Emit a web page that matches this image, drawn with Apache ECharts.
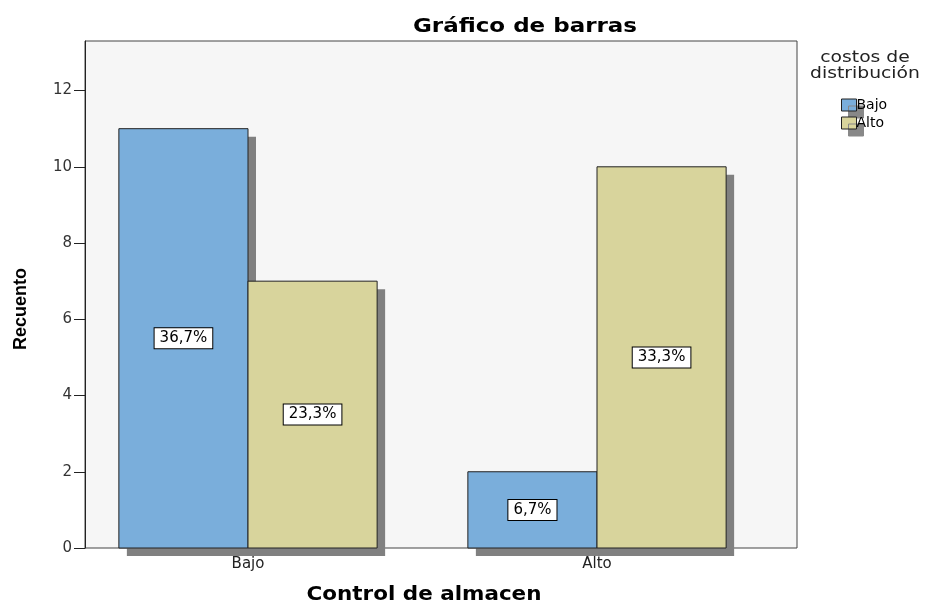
<!DOCTYPE html>
<html>
<head>
<meta charset="utf-8">
<script src="https://cdn.jsdelivr.net/npm/echarts@6/dist/echarts.min.js"></script>
<style>
  html, body { margin: 0; padding: 0; background: #fff; }
  #chart { width: 925px; height: 604px; }
</style>
</head>
<body>
<div id="chart"></div>
<script>
// data
var categories = ["Bajo", "Alto"];
var bajoCounts = [11, 2];
var altoCounts = [7, 10];
var bajoPct = ["36,7%", "6,7%"];
var altoPct = ["23,3%", "33,3%"];
var yTicks = [0, 2, 4, 6, 8, 10, 12];

var font = "DejaVu Sans, Arial, sans-serif";
var chart = echarts.init(document.getElementById("chart"));

// bar + drop shadow, drawn through the axis scales
function barRenderer(color, pct, side) {
    return function (params, api) {
        var ci = api.value(0);
        var base = api.coord([ci, 0]);
        var top = api.coord([ci, api.value(1)]);
        var bw = api.size([1, 0])[0] * 0.37;
        var x0 = base[0] + (side === 0 ? -bw : 0);
        var h = base[1] - top[1];
        return {
            type: "group",
            children: [
                {
                    type: "rect",
                    shape: { x: x0 + 8, y: top[1] + 8, width: bw, height: h },
                    style: { fill: "#808080" }
                },
                {
                    type: "rect",
                    shape: { x: x0, y: top[1], width: bw, height: h },
                    style: { fill: color, stroke: "#222", lineWidth: 1 },
                    textContent: {
                        style: {
                            text: pct[params.dataIndex],
                            fontFamily: font,
                            fontSize: 15,
                            fill: "#000",
                            backgroundColor: "#fff",
                            borderColor: "#000",
                            borderWidth: 1,
                            padding: [3, 5, 2, 5]
                        }
                    },
                    textConfig: { position: "inside" }
                }
            ]
        };
    };
}

var option = {
    animation: false,
    backgroundColor: "#fff",
    legend: {
        orient: "vertical",
        left: 836,
        top: 93,
        icon: "rect",
        itemWidth: 15,
        itemHeight: 12,
        itemGap: 4,
        itemStyle: {
            borderColor: "#222",
            borderWidth: 1,
            shadowColor: "#888",
            shadowOffsetX: 7,
            shadowOffsetY: 7,
            shadowBlur: 0
        },
        textStyle: { fontFamily: font, fontSize: 14, color: "#000", padding: [0, 0, 0, -5] },
        data: ["Bajo", "Alto"]
    },
    graphic: [
        {
            type: "rect",
            z: -10,
            shape: { x: 85, y: 41, width: 712, height: 507 },
            style: { fill: "#f6f6f6", stroke: "#444", lineWidth: 1 }
        },
        {
            type: "text",
            x: 525,
            y: 27,
            scaleX: 1.21,
            style: {
                text: "Gráfico de barras",
                fontFamily: font,
                fontSize: 19,
                fontWeight: "bold",
                fill: "#000",
                align: "center",
                verticalAlign: "middle"
            }
        },
        {
            type: "text",
            x: 424,
            y: 595,
            scaleX: 1.13,
            style: {
                text: "Control de almacen",
                fontFamily: font,
                fontSize: 19,
                fontWeight: "bold",
                fill: "#000",
                align: "center",
                verticalAlign: "middle"
            }
        },
        {
            type: "text",
            x: 865,
            y: 50,
            scaleX: 1.25,
            style: {
                text: "costos de\ndistribución",
                fontFamily: font,
                fontSize: 15,
                lineHeight: 16,
                fill: "#222",
                align: "center",
                verticalAlign: "top"
            }
        },
        {
            type: "text",
            x: 12,
            y: 350,
            rotation: Math.PI / 2,
            style: {
                text: "Recuento",
                fontFamily: "Liberation Sans, Arial, sans-serif",
                fontSize: 18,
                fontWeight: "bold",
                fill: "#000"
            }
        }
    ],
    grid: { left: 73.5, right: 153.5, top: 41, bottom: 56, outerBoundsMode: "none" },
    xAxis: {
        type: "category",
        data: categories,
        axisLine: { show: false },
        axisTick: { show: true, alignWithLabel: true, length: 4, lineStyle: { color: "#333" } },
        axisLabel: { fontFamily: font, fontSize: 15, color: "#222", margin: 9 }
    },
    yAxis: {
        type: "value",
        min: 0,
        max: 13.3,
        interval: 2,
        offset: -11.5,
        axisLine: { show: true, lineStyle: { color: "#222" } },
        axisTick: { show: true, length: 11, customValues: yTicks, lineStyle: { color: "#222" } },
        splitLine: { show: false },
        axisLabel: { fontFamily: font, fontSize: 15, color: "#333", margin: 13, customValues: yTicks }
    },
    series: [
        {
            name: "Bajo",
            type: "custom",
            itemStyle: { color: "#7aaedb" },
            data: bajoCounts.map(function (v, i) { return [i, v]; }),
            renderItem: barRenderer("#7aaedb", bajoPct, 0)
        },
        {
            name: "Alto",
            type: "custom",
            itemStyle: { color: "#d8d49c" },
            data: altoCounts.map(function (v, i) { return [i, v]; }),
            renderItem: barRenderer("#d8d49c", altoPct, 1)
        }
    ]
};
chart.setOption(option);
</script>
</body>
</html>
